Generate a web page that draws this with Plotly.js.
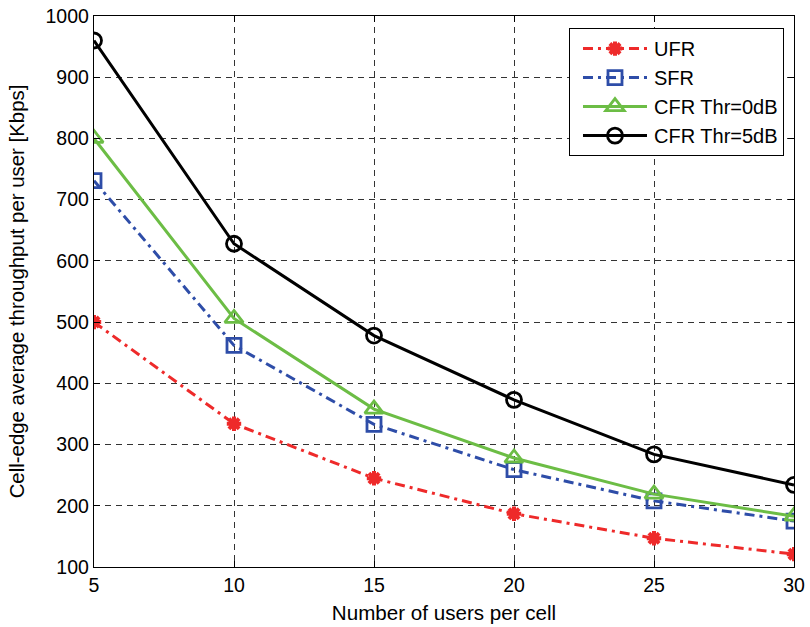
<!DOCTYPE html>
<html>
<head>
<meta charset="utf-8">
<script src="https://cdn.plot.ly/plotly-3.0.1.min.js"></script>
<style>html,body{margin:0;padding:0;background:#fff;}#chart{width:810px;height:627px;}</style>
</head>
<body>
<div id="chart"></div>
<script>
const users = [5, 10, 15, 20, 25, 30];
const ufr = [500, 334, 245, 187, 147, 121];
const sfr = [731, 462, 333, 259, 208, 175];
const cfr0 = [800, 506, 358, 278, 219, 183];
const cfr5 = [960, 628, 478, 373, 284, 234];
const seriesNames = ['UFR', 'SFR', 'CFR Thr=0dB', 'CFR Thr=5dB'];
const xTicks = [5, 10, 15, 20, 25, 30];
const yTicks = [100, 200, 300, 400, 500, 600, 700, 800, 900, 1000];

const traces = [
  {x: users, y: ufr, name: seriesNames[0], mode: 'lines+markers', legendgroup: 'a',
   line: {color: '#EE2A2A', width: 3, dash: '10px,5px,3px,5px'},
   marker: {symbol: 'asterisk-open', size: 12, color: '#EE2A2A', line: {color: '#EE2A2A', width: 4}}},
  {x: users, y: sfr, name: seriesNames[1], mode: 'lines+markers', legendgroup: 'b',
   line: {color: '#2E4DA8', width: 3, dash: '10px,5px,3px,5px'},
   marker: {symbol: 'square-open', size: 14, color: '#2E4DA8', line: {color: '#2E4DA8', width: 2.8}}},
  {x: users, y: cfr0, name: seriesNames[2], mode: 'lines+markers', legendgroup: 'c',
   line: {color: '#6CBD45', width: 3},
   marker: {symbol: 'triangle-up-open', size: 16, color: '#6CBD45', line: {color: '#6CBD45', width: 2.8}}},
  {x: users, y: cfr5, name: seriesNames[3], mode: 'lines+markers', legendgroup: 'd',
   line: {color: '#000000', width: 3},
   marker: {symbol: 'circle-open', size: 15, color: '#000000', line: {color: '#000000', width: 2.8}}}
];

const layout = {
  width: 810, height: 627,
  margin: {l: 94, r: 16, t: 16, b: 60},
  paper_bgcolor: '#ffffff', plot_bgcolor: '#ffffff',
  font: {family: 'Liberation Sans, Arial, sans-serif', size: 20, color: '#000'},
  showlegend: true,
  legend: {x: 0.9857, y: 0.978, xanchor: 'right', yanchor: 'top',
    bordercolor: '#000', borderwidth: 1, bgcolor: '#fff',
    font: {size: 20}, itemwidth: 74, tracegroupgap: 3, traceorder: 'normal'},
  xaxis: {range: [5, 30], tickvals: xTicks, ticktext: xTicks.map(String),
    showline: true, linecolor: '#000', linewidth: 1.2, mirror: 'ticks',
    ticks: 'inside', ticklen: 6, tickcolor: '#000',
    showgrid: true, gridcolor: '#333', griddash: '6px,5px', gridwidth: 1,
    zeroline: false, tickfont: {size: 19.5},
    title: {text: 'Number of users per cell', font: {size: 20.6}, standoff: 11}},
  yaxis: {range: [100, 1000], tickvals: yTicks, ticktext: yTicks.map(String),
    showline: true, linecolor: '#000', linewidth: 1.2, mirror: 'ticks',
    ticks: 'inside', ticklen: 6, tickcolor: '#000',
    showgrid: true, gridcolor: '#333', griddash: '6px,5px', gridwidth: 1,
    zeroline: false, tickfont: {size: 19.5},
    title: {text: 'Cell-edge average throughput per user [Kbps]', font: {size: 20.4}, standoff: 15}}
};

Plotly.newPlot('chart', traces, layout, {displayModeBar: false, staticPlot: true}).then(function (gd) {
  gd.querySelectorAll('.legend .traces').forEach(function (g) {
    g.querySelectorAll('path.js-line').forEach(function (p) { p.setAttribute('d', 'M13,0h64'); });
    g.querySelectorAll('.legendpoints path.scatterpts').forEach(function (p) { p.setAttribute('transform', 'translate(45,0)'); });
  });
});
</script>
</body>
</html>
